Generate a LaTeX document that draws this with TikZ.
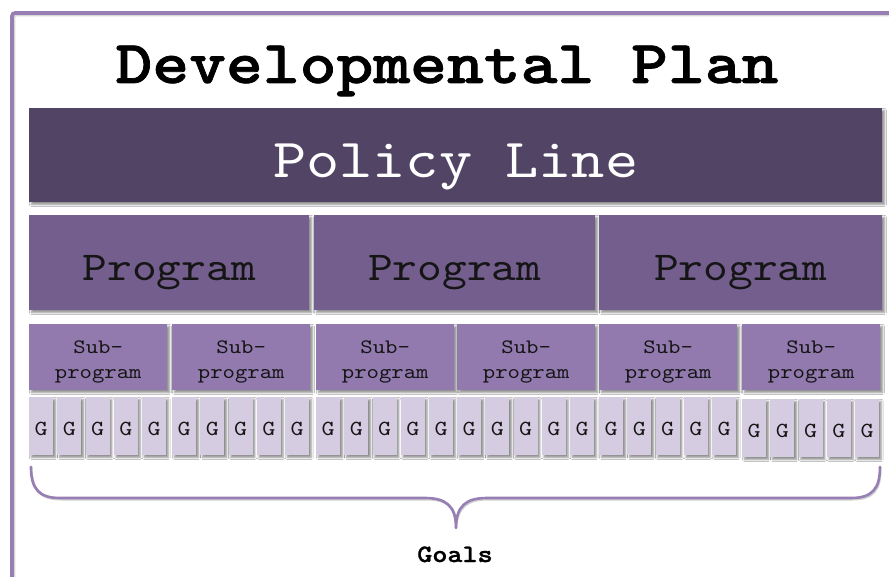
\documentclass[tikz,border=0pt]{standalone}
\usepackage{fontspec}
\setmainfont{lmmono10-regular.otf}[BoldFont=lmmonolt10-bold.otf,
  BoldFeatures={FakeBold=1.2}, FakeStretch=1.15]
\usetikzlibrary{shadows.blur}
\definecolor{policycol}{HTML}{524465}
\definecolor{progcol}{HTML}{745E8D}
\definecolor{subcol}{HTML}{9279AE}
\definecolor{goalcol}{HTML}{D5CCE2}
\definecolor{linecol}{HTML}{977FB4}
\definecolor{inkcol}{HTML}{151515}
\tikzset{
  softshadow/.style={blur shadow={shadow xshift=2.2pt, shadow yshift=-2.2pt,
      shadow blur radius=2pt, shadow opacity=45}},
  plbox/.style={softshadow, fill=policycol, anchor=north west, inner sep=0pt,
      minimum width=853pt, minimum height=94pt, text=white,
      font=\fontsize{55}{55}\selectfont, text height=44pt, text depth=0pt},
  progbox/.style={softshadow, fill=progcol, anchor=north west, inner sep=0pt,
      minimum height=95pt, text=inkcol,
      font=\fontsize{41}{41}\selectfont, text height=35pt, text depth=0pt},
  subbox/.style={softshadow, fill=subcol, anchor=north west, inner sep=0pt,
      minimum width=138pt, minimum height=66pt, text=inkcol, align=center,
      font=\fontsize{20.5}{25}\selectfont},
  goalbox/.style={softshadow, fill=goalcol, anchor=north west, inner sep=0pt,
      minimum width=24pt, minimum height=58pt, text=inkcol,
      font=\fontsize{21.5}{21.5}\selectfont, text height=18pt, text depth=0pt},
  bracket/.style={draw=linecol, line width=2.6pt, line cap=round, line join=round},
  bracketshade/.style={draw=black, opacity=0.18, line width=2.6pt, line cap=round}
}
\begin{document}
\begin{tikzpicture}[x=1pt,y=-1pt]
  \useasboundingbox (0,0) rectangle (889,577);
  \clip (0,0) rectangle (889,577);
  \fill[white] (0,0) rectangle (889,577);

  % outer frame, running off the page to the right and below
  \draw[black, opacity=0.15, line width=3.6pt, rounded corners=3pt]
    (13.5,600) -- (13.5,14.5) -- (900,14.5);
  \draw[linecol, line width=3.6pt, rounded corners=3pt]
    (12,600) -- (12,13) -- (900,13);

  % title
  \node[anchor=base, font=\bfseries\fontsize{61}{61}\selectfont, text=black]
    (title) at (447,83) {Developmental Plan};

  % policy line
  \node[plbox] (policy) at (29,108) {Policy Line};

  % programs
  \node[progbox, minimum width=280pt] (prog1) at (29,215) {Program};
  \node[progbox, minimum width=281pt] (prog2) at (314,215) {Program};
  \node[progbox, minimum width=283pt] (prog3) at (599,215) {Program};

  % sub-programs (the strut on the first line sets the text a little low)
  \foreach \x [count=\i] in {29,172,316,457,599,742} {
    \node[subbox] (sub\i) at (\x,324) {\rule{0pt}{22pt}Sub-\\program};
  }

  % goals, five per sub-program
  \foreach \x/\y [count=\i] in {29/397,172/397,316/397,457/397,599/397,742/399} {
    \foreach \k in {0,...,4} {
      \node[goalbox] (g\i-\k) at ({\x+\k*28.2},\y) {G};
    }
  }

  % brace gathering the goals
  \coordinate (bl) at (31,467);
  \coordinate (br) at (880,467);
  \coordinate (tip) at (456,528);
  \draw[bracketshade, xshift=1.2pt, yshift=-1.2pt]
    (bl) .. controls (31,489) and (39,498) .. (60,498) -- (425,498)
    .. controls (446,498) and (456,506) .. (tip)
    .. controls (456,506) and (466,498) .. (487,498) -- (851,498)
    .. controls (872,498) and (880,489) .. (br);
  \draw[bracket]
    (bl) .. controls (31,489) and (39,498) .. (60,498) -- (425,498)
    .. controls (446,498) and (456,506) .. (tip)
    .. controls (456,506) and (466,498) .. (487,498) -- (851,498)
    .. controls (872,498) and (880,489) .. (br);

  \node[anchor=base, font=\bfseries\fontsize{25}{25}\selectfont, text=black]
    (goals) at (455,562) {Goals};
\end{tikzpicture}
\end{document}
